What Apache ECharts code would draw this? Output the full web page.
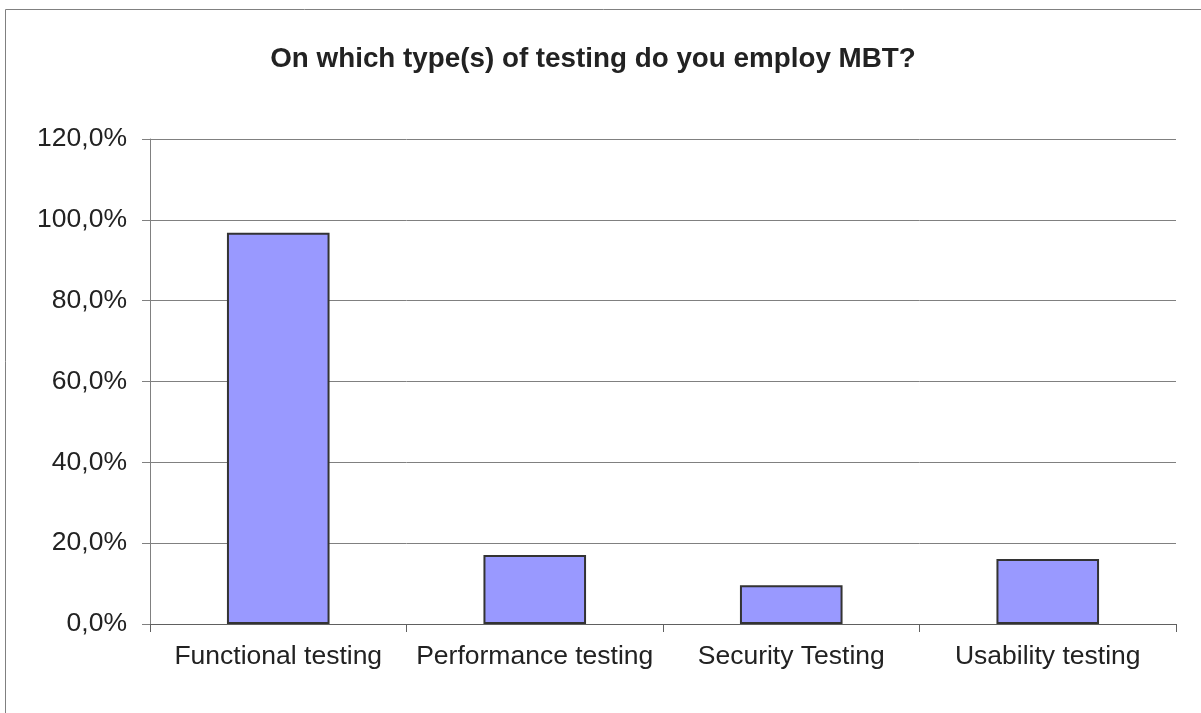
<!DOCTYPE html>
<html>
<head>
<meta charset="utf-8">
<script src="https://cdn.jsdelivr.net/npm/echarts@6/dist/echarts.min.js"></script>
<style>html,body{margin:0;padding:0;background:#fff}#c{width:1201px;height:713px}</style>
</head>
<body>
<div id="c"></div>
<script>
const categories = ['Functional testing', 'Performance testing', 'Security Testing', 'Usability testing'];
const values = [96.8, 17.1, 9.6, 16.1];
const titleText = 'On which type(s) of testing do you employ MBT?';

const chart = echarts.init(document.getElementById('c'), null, {renderer: 'canvas'});
chart.setOption({
  backgroundColor: '#fff',
  animation: false,
  title: {
    text: titleText,
    left: 588, top: 40, textAlign: 'center',
    textStyle: {fontFamily: 'Liberation Sans, Arial', fontSize: 27.8, fontWeight: 'bold', color: '#222'}
  },
  graphic: [{
    type: 'rect', silent: true,
    shape: {x: 5.5, y: 9.5, width: 1300, height: 800},
    style: {fill: 'none', stroke: '#808080', lineWidth: 1}
  }],
  grid: {left: 150, right: 25, top: 139, bottom: 89, containLabel: false},
  xAxis: {
    type: 'category', data: categories, boundaryGap: true,
    axisLine: {lineStyle: {color: '#606060', width: 1}},
    axisTick: {show: true, alignWithLabel: false, length: 8, lineStyle: {color: '#606060'}},
    axisLabel: {fontFamily: 'Liberation Sans, Arial', fontSize: 26.5, color: '#222', margin: 19, interval: 0}
  },
  yAxis: {
    type: 'value', min: 0, max: 120, interval: 20,
    axisLine: {show: true, lineStyle: {color: '#808080', width: 1}},
    axisTick: {show: true, length: 8, lineStyle: {color: '#808080'}},
    splitLine: {show: true, lineStyle: {color: '#808080', width: 1}},
    axisLabel: {
      fontFamily: 'Liberation Sans, Arial', fontSize: 26.5, color: '#222', margin: 23,
      padding: [5, 0, 0, 0],
      formatter: v => v.toFixed(1).replace('.', ',') + '%'
    }
  },
  series: [{
    type: 'bar', data: values, barWidth: '40%',
    itemStyle: {color: '#9999FF', borderColor: '#333333', borderWidth: 2}
  }]
});
</script>
</body>
</html>
